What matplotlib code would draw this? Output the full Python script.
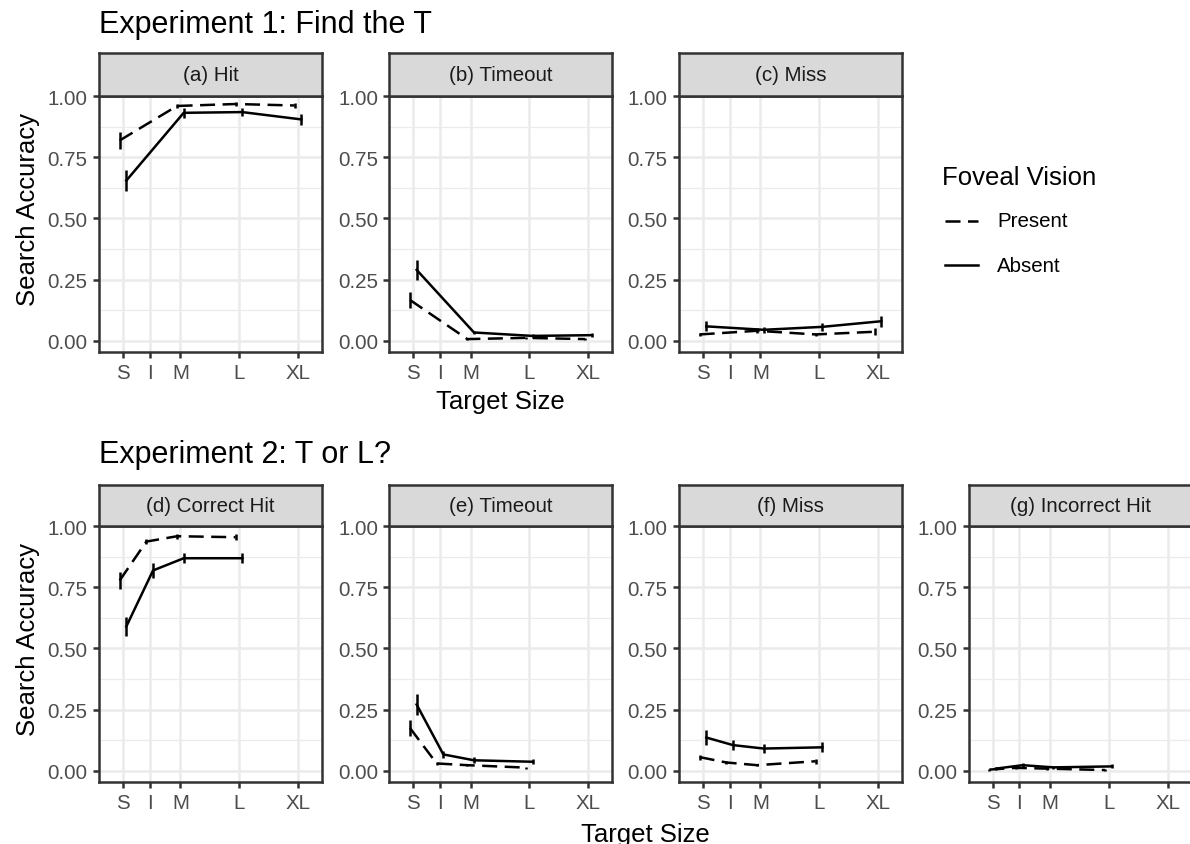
import numpy as np
import matplotlib
matplotlib.use("Agg")
import matplotlib.pyplot as plt
from matplotlib.lines import Line2D

plt.rcParams['font.family'] = ['Liberation Sans', 'DejaVu Sans']

# ---------------- data ----------------
size_labels = ["S", "I", "M", "L", "XL"]
size_pos = [1.0, 1.456, 1.98, 2.98, 3.99]

exp1_sizes = ["S", "M", "L", "XL"]
exp2_sizes = ["S", "I", "M", "L"]

# Experiment 1
e1_hit_present = [0.819, 0.960, 0.968, 0.962]
e1_hit_present_err = [0.033, 0.010, 0.008, 0.010]
e1_hit_absent = [0.655, 0.932, 0.935, 0.905]
e1_hit_absent_err = [0.043, 0.020, 0.018, 0.022]

e1_timeout_present = [0.167, 0.007, 0.012, 0.007]
e1_timeout_present_err = [0.034, 0.004, 0.005, 0.004]
e1_timeout_absent = [0.290, 0.034, 0.020, 0.023]
e1_timeout_absent_err = [0.040, 0.008, 0.007, 0.008]

e1_miss_present = [0.026, 0.041, 0.026, 0.037]
e1_miss_present_err = [0.006, 0.010, 0.006, 0.015]
e1_miss_absent = [0.059, 0.045, 0.057, 0.080]
e1_miss_absent_err = [0.020, 0.012, 0.015, 0.022]

# Experiment 2
e2_correct_present = [0.778, 0.937, 0.959, 0.955]
e2_correct_present_err = [0.033, 0.010, 0.010, 0.012]
e2_correct_absent = [0.590, 0.819, 0.869, 0.869]
e2_correct_absent_err = [0.040, 0.030, 0.020, 0.020]

e2_timeout_present = [0.175, 0.030, 0.023, 0.013]
e2_timeout_present_err = [0.033, 0.006, 0.005, 0.004]
e2_timeout_absent = [0.271, 0.067, 0.043, 0.037]
e2_timeout_absent_err = [0.042, 0.015, 0.012, 0.010]

e2_miss_present = [0.056, 0.034, 0.023, 0.039]
e2_miss_present_err = [0.010, 0.006, 0.005, 0.010]
e2_miss_absent = [0.136, 0.105, 0.091, 0.096]
e2_miss_absent_err = [0.030, 0.020, 0.020, 0.020]

e2_incorrect_present = [0.005, 0.012, 0.009, 0.003]
e2_incorrect_present_err = [0.004, 0.006, 0.005, 0.003]
e2_incorrect_absent = [0.009, 0.023, 0.014, 0.018]
e2_incorrect_absent_err = [0.006, 0.010, 0.006, 0.008]

row1_titles = ["(a) Hit", "(b) Timeout", "(c) Miss"]
row2_titles = ["(d) Correct Hit", "(e) Timeout", "(f) Miss", "(g) Incorrect Hit"]
legend_labels = ["Present", "Absent"]

# ---------------- style ----------------
W, H = 1190, 845
fig = plt.figure(figsize=(W / 100, H / 100), dpi=100)

def fx(px):
    return px / W

def fy(py):
    return 1 - py / H

GRID_MAJ = "#EBEBEB"
DARK = "#333333"
TICKC = "#4D4D4D"
LW = 1.8
TICK_FS = 14.8
TITLE_FS = 18.5
PLOT_TITLE_FS = 22
DODGE = 0.057
DASH = (0, (6, 3))

col_left = [99, 389.3, 679, 968.7]
panel_w = 223
rows = [(54.3, 96.7, 353.3), (485.7, 526.7, 783.3)]  # strip top, panel top, panel bottom

pos_map = dict(zip(size_labels, size_pos))


def make_panel(row, col, title, sizes, pres, pres_e, abs_, abs_e):
    st, pt, pb = rows[row]
    left = col_left[col]
    ax = fig.add_axes([fx(left), fy(pb), fx(panel_w), (pb - pt) / H])
    ax.set_xlim(size_pos[0] - 0.41, size_pos[-1] + 0.41)
    ax.set_ylim(-0.047, 1.002)
    ax.set_facecolor("white")
    # grid
    for yv in [0.125, 0.375, 0.625, 0.875]:
        ax.axhline(yv, color=GRID_MAJ, lw=0.9, zorder=0)
    for yv in [0, 0.25, 0.5, 0.75, 1.0]:
        ax.axhline(yv, color=GRID_MAJ, lw=1.8, zorder=0)
    for xv in size_pos:
        ax.axvline(xv, color=GRID_MAJ, lw=1.8, zorder=0)
    x = np.array([pos_map[s] for s in sizes])
    pres = np.array(pres); pres_e = np.array(pres_e)
    abs_ = np.array(abs_); abs_e = np.array(abs_e)
    ax.plot(x - DODGE, pres, color="black", lw=LW, ls=DASH, zorder=3)
    ax.vlines(x - DODGE, pres - pres_e, pres + pres_e, color="black", lw=LW, zorder=3)
    ax.plot(x + DODGE, abs_, color="black", lw=LW, ls="-", zorder=3)
    ax.vlines(x + DODGE, abs_ - abs_e, abs_ + abs_e, color="black", lw=LW, zorder=3)

    ax.set_xticks(size_pos)
    ax.set_xticklabels(size_labels)
    ax.set_yticks([0, 0.25, 0.5, 0.75, 1.0])
    ax.set_yticklabels(["0.00", "0.25", "0.50", "0.75", "1.00"])
    ax.tick_params(axis="both", length=4.6, width=1.8, color=DARK,
                   labelcolor=TICKC, labelsize=TICK_FS)
    ax.tick_params(axis="x", pad=3.0)
    ax.tick_params(axis="y", pad=3.5)
    for sp in ax.spines.values():
        sp.set_color(DARK)
        sp.set_linewidth(1.8)
        sp.set_zorder(5)
    # strip
    sax = fig.add_axes([fx(left), fy(pt), fx(panel_w), (pt - st) / H])
    sax.set_facecolor("#D9D9D9")
    sax.set_xticks([]); sax.set_yticks([])
    for sp in sax.spines.values():
        sp.set_color(DARK)
        sp.set_linewidth(1.8)
    sax.text(0.5, 0.5, title, transform=sax.transAxes, ha="center", va="center",
             fontsize=TICK_FS, color="#1A1A1A")
    return ax


make_panel(0, 0, row1_titles[0], exp1_sizes, e1_hit_present, e1_hit_present_err, e1_hit_absent, e1_hit_absent_err)
make_panel(0, 1, row1_titles[1], exp1_sizes, e1_timeout_present, e1_timeout_present_err, e1_timeout_absent, e1_timeout_absent_err)
make_panel(0, 2, row1_titles[2], exp1_sizes, e1_miss_present, e1_miss_present_err, e1_miss_absent, e1_miss_absent_err)

make_panel(1, 0, row2_titles[0], exp2_sizes, e2_correct_present, e2_correct_present_err, e2_correct_absent, e2_correct_absent_err)
make_panel(1, 1, row2_titles[1], exp2_sizes, e2_timeout_present, e2_timeout_present_err, e2_timeout_absent, e2_timeout_absent_err)
make_panel(1, 2, row2_titles[2], exp2_sizes, e2_miss_present, e2_miss_present_err, e2_miss_absent, e2_miss_absent_err)
make_panel(1, 3, row2_titles[3], exp2_sizes, e2_incorrect_present, e2_incorrect_present_err, e2_incorrect_absent, e2_incorrect_absent_err)

# titles
fig.text(fx(99), fy(25), "Experiment 1: Find the T", fontsize=PLOT_TITLE_FS, ha="left", va="center")
fig.text(fx(99), fy(455), "Experiment 2: T or L?", fontsize=PLOT_TITLE_FS, ha="left", va="center")

# axis titles
fig.text(fx(28), fy(210), "Search Accuracy", rotation=90, fontsize=TITLE_FS, ha="center", va="center")
fig.text(fx(28), fy(640), "Search Accuracy", rotation=90, fontsize=TITLE_FS, ha="center", va="center")
fig.text(fx(500.5), fy(402), "Target Size", fontsize=TITLE_FS, ha="center", va="center")
fig.text(fx(645), fy(835), "Target Size", fontsize=TITLE_FS, ha="center", va="center")

# legend
fig.text(fx(942), fy(178), "Foveal Vision", fontsize=TITLE_FS, ha="left", va="center")
for i, (lab, ls) in enumerate(zip(legend_labels, [DASH, "-"])):
    yk = 222 + i * 44
    fig.add_artist(Line2D([fx(945), fx(978)], [fy(yk), fy(yk)], color="black", lw=LW, ls=ls))
    fig.text(fx(997), fy(yk), lab, fontsize=TICK_FS, ha="left", va="center")

fig.savefig("out.png", dpi=100, facecolor="white")
